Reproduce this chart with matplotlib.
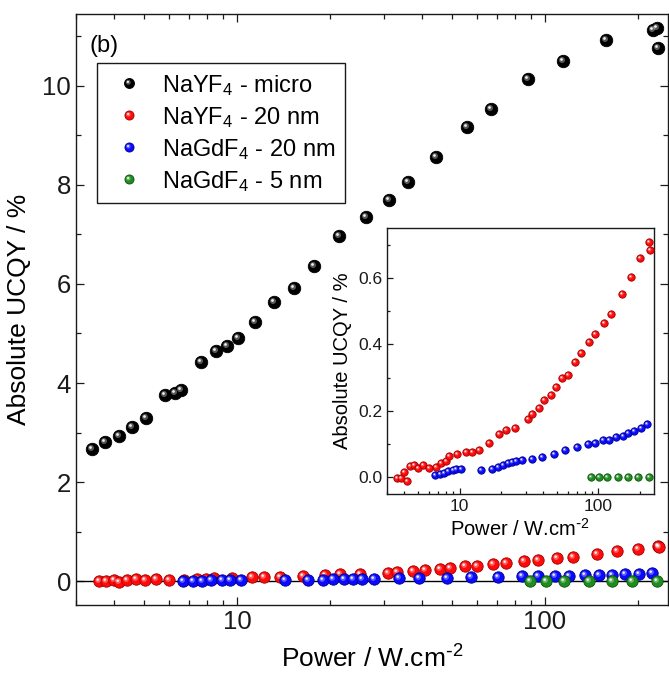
import numpy as np
import matplotlib
matplotlib.use("Agg")
from matplotlib import pyplot as plt
from matplotlib.path import Path
from matplotlib.ticker import MultipleLocator, FuncFormatter, NullFormatter

plt.rcParams["font.family"] = ["Liberation Sans", "DejaVu Sans"]
plt.rcParams["mathtext.default"] = "regular"

# excitation power density (W/cm2) and absolute UCQY (%)
micro_power = [3.37, 3.72, 4.15, 4.55, 5.06, 5.85, 6.30, 6.60, 7.65, 8.54, 9.26, 10.1,
               11.45, 13.2, 15.3, 17.8, 21.4, 26.2, 31.1, 36.0, 44.2, 55.7, 66.7, 87.9,
               114, 158, 224, 231, 232]
micro_qy = [2.66, 2.80, 2.93, 3.12, 3.30, 3.76, 3.80, 3.85, 4.42, 4.65, 4.74, 4.91,
            5.24, 5.63, 5.91, 6.37, 6.96, 7.36, 7.70, 8.06, 8.57, 9.17, 9.54, 10.13,
            10.51, 10.93, 11.12, 11.16, 10.76]

y20_power = [3.56, 3.76, 3.99, 4.15, 4.39, 4.69, 5.03, 5.46, 6.00, 6.73, 7.39, 7.94,
             8.39, 9.62, 11.16, 12.19, 13.75, 16.40, 19.34, 21.59, 25.17, 31.02, 33.1,
             37.4, 40.8, 45.6, 49.2, 54.9, 60.3, 68.0, 74.7, 85.3, 94.6, 109.8, 123.2,
             147.7, 171.3, 201, 232, 234]
y20_qy = [-0.002, -0.002, 0.015, -0.010, 0.033, 0.037, 0.029, 0.038, 0.027, 0.030,
          0.042, 0.048, 0.063, 0.069, 0.077, 0.077, 0.083, 0.104, 0.130, 0.143, 0.149,
          0.175, 0.192, 0.208, 0.234, 0.248, 0.271, 0.299, 0.309, 0.348, 0.375, 0.406,
          0.431, 0.465, 0.492, 0.552, 0.602, 0.660, 0.708, 0.684]

gd20_power = [6.70, 7.19, 7.72, 8.25, 8.96, 9.46, 10.28, 14.29, 17.04, 19.02, 20.54,
              22.19, 23.84, 25.45, 27.95, 33.5, 39.1, 47.9, 57.4, 70.4, 83.9, 95.2,
              108.0, 119.9, 134.5, 149.4, 164.9, 182.0, 202.1, 223.0]
gd20_qy = [0.008, 0.010, 0.014, 0.019, 0.023, 0.025, 0.025, 0.021, 0.025, 0.032, 0.036,
           0.042, 0.046, 0.048, 0.053, 0.055, 0.062, 0.071, 0.082, 0.092, 0.099, 0.104,
           0.113, 0.112, 0.120, 0.125, 0.132, 0.140, 0.149, 0.160]

gd5_power = [89.1, 100.6, 115.3, 138.7, 164.9, 192.3, 231.8]
gd5_qy = [0.0, 0.0, 0.0, 0.0, 0.0, 0.0, 0.0]

labels = ["NaYF$_4$ - micro", "NaYF$_4$ - 20 nm", "NaGdF$_4$ - 20 nm", "NaGdF$_4$ - 5 nm"]
colors = ["#000000", "#ff0a0a", "#0a0aff", "#1f8c1f"]
edges = ["#000000", "#a00000", "#00008c", "#0c520c"]
xlabel = "Power / W.cm$^{\\text{-}2}$"


def spot(cx, cy, r):
    # off-centre disc for the glossy highlight; the dummy corner vertex
    # keeps matplotlib from rescaling the marker path
    c = Path.circle((cx, cy), r)
    verts = np.vstack([[0.5, 0.5], c.vertices])
    codes = np.concatenate([[Path.MOVETO], c.codes])
    return Path(verts, codes)


GLOW = spot(-0.12, 0.12, 0.24)
SHINE = spot(-0.16, 0.16, 0.11)


def balls(ax, x, y, color, edge, ms, zorder=3):
    base, = ax.plot(x, y, ls="none", marker="o", ms=ms, mfc=color, mec=edge,
                    mew=0.6, zorder=zorder)
    glow, = ax.plot(x, y, ls="none", marker=GLOW, ms=ms, mfc="white", mec="none",
                    alpha=0.35, zorder=zorder)
    shine, = ax.plot(x, y, ls="none", marker=SHINE, ms=ms, mfc="white", mec="none",
                     alpha=0.9, zorder=zorder)
    return (base, glow, shine)


def style_axes(ax, fs, major, minor, all_sides):
    ax.tick_params(which="both", direction="in", top=all_sides, right=all_sides,
                   labelsize=fs, width=0.9, colors="#1a1a1a")
    ax.tick_params(which="major", length=major)
    ax.tick_params(which="minor", length=minor)
    for s in ax.spines.values():
        s.set_linewidth(1.0)
        s.set_color("#1a1a1a")


fig = plt.figure(figsize=(6.69, 6.74), dpi=100)
ax = fig.add_axes([0.1136, 0.1024, 0.8842, 0.8769])

series = [(micro_power, micro_qy), (y20_power, y20_qy),
          (gd20_power, gd20_qy), (gd5_power, gd5_qy)]
handles = []
for i, (px, qy) in enumerate(series):
    ms = 9.0 if i == 0 else 8.2
    handles.append(balls(ax, px, qy, colors[i], edges[i], ms, zorder=3 + i))

ax.axhline(0, color="black", lw=1.0, zorder=2)
ax.set_xscale("log")
ax.set_xlim(3, 250)
ax.set_ylim(-0.48, 11.45)
ax.yaxis.set_major_locator(MultipleLocator(2))
ax.yaxis.set_minor_locator(MultipleLocator(1))
ax.xaxis.set_major_formatter(FuncFormatter(lambda v, _: f"{v:g}"))
ax.xaxis.set_minor_formatter(NullFormatter())
style_axes(ax, 18.5, 6, 3.5, True)
ax.set_xlabel(xlabel, fontsize=19, labelpad=8)
ax.set_ylabel("Absolute UCQY / %", fontsize=19, labelpad=8)

ax.text(0.022, 0.965, "(b)", transform=ax.transAxes, fontsize=17, va="top", ha="left")

leg = ax.legend(handles, labels, loc="upper left", bbox_to_anchor=(0.036, 0.9166),
                borderaxespad=0, fontsize=17, numpoints=1, markerscale=0.8,
                handlelength=1.9, handletextpad=0.45, labelspacing=0.3,
                borderpad=0.4, fancybox=False, edgecolor="#1a1a1a", framealpha=1)
leg.get_frame().set_linewidth(1.0)

# zoomed view of the three nanoparticle samples
ins = fig.add_axes([0.5785, 0.2671, 0.3984, 0.3947])
for i, (px, qy) in enumerate(series[1:], start=1):
    balls(ins, px, qy, colors[i], edges[i], 5.3, zorder=3 + i)
ins.set_xscale("log")
ins.set_xlim(3, 250)
ins.set_ylim(-0.05, 0.75)
ins.yaxis.set_major_locator(MultipleLocator(0.2))
ins.yaxis.set_minor_locator(MultipleLocator(0.1))
ins.yaxis.set_major_formatter(FuncFormatter(lambda v, _: f"{v:.1f}"))
ins.xaxis.set_major_formatter(FuncFormatter(lambda v, _: f"{v:g}"))
ins.xaxis.set_minor_formatter(NullFormatter())
style_axes(ins, 12.5, 4.5, 2.5, False)
ins.set_xlabel(xlabel, fontsize=14.5, labelpad=3)
ins.set_ylabel("Absolute UCQY / %", fontsize=14.5, labelpad=4)

fig.savefig("out.png", dpi=100)
